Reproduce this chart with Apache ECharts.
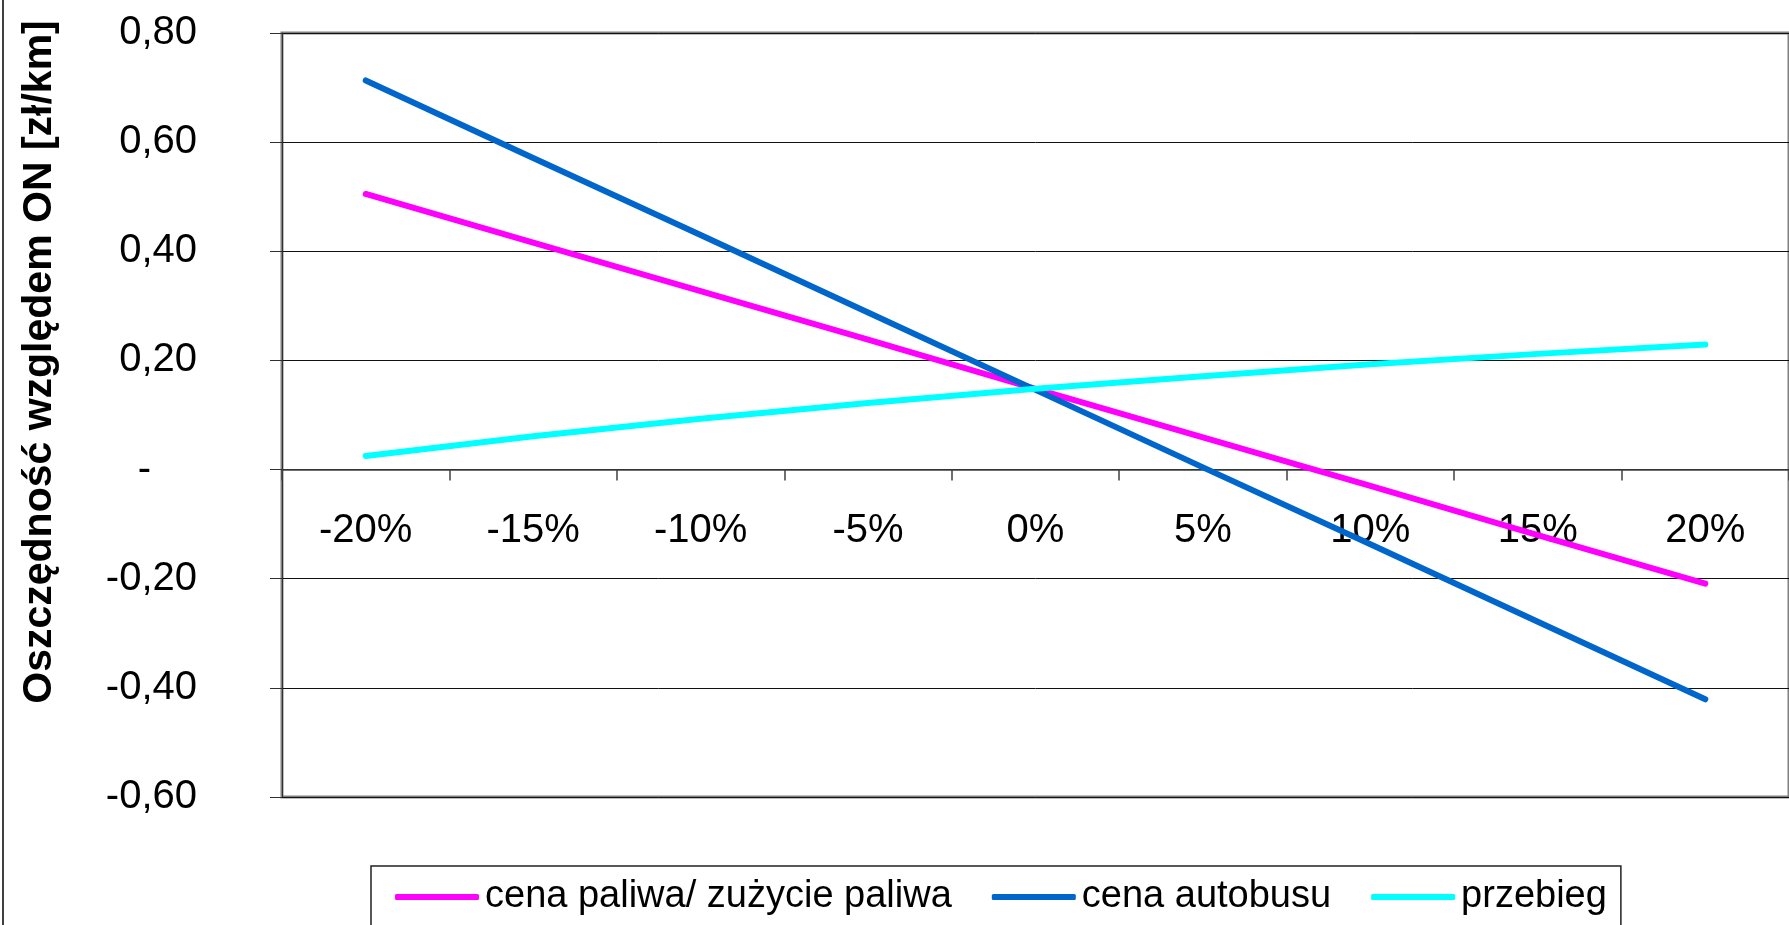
<!DOCTYPE html>
<html>
<head>
<meta charset="utf-8">
<script src="https://cdn.jsdelivr.net/npm/echarts@6/dist/echarts.min.js"></script>
<style>
html,body{margin:0;padding:0;background:#fff;}
#chart{width:1789px;height:925px;}
</style>
</head>
<body>
<div id="chart"></div>
<script>
const categories = ['-20%', '-15%', '-10%', '-5%', '0%', '5%', '10%', '15%', '20%'];
const seriesNames = ['cena paliwa/ zużycie paliwa', 'cena autobusu', 'przebieg'];
const cenaPaliwa = [0.505, 0.416, 0.327, 0.238, 0.148, 0.059, -0.030, -0.120, -0.209];
const cenaAutobusu = [0.713, 0.571, 0.430, 0.288, 0.146, 0.004, -0.137, -0.279, -0.421];
const przebieg = [0.025, 0.061, 0.093, 0.122, 0.148, 0.171, 0.193, 0.212, 0.229];
const yMin = -0.6, yMax = 0.8, yStep = 0.2;
const yAxisTitle = 'Oszczędność względem ON [zł/km]';
const colors = ['#FF00FF', '#0066CC', '#00FFFF'];

const FONT = 'Liberation Sans, Arial, sans-serif';
const W = 1789, H = 925;
const gridTop = 33, gridBottom = 128;
const plotH = H - gridTop - gridBottom;
// distance from bottom of plot to the zero line (so the category axis sits on y = 0)
const zeroOffset = -plotH * (0 - yMin) / (yMax - yMin);

const chart = echarts.init(document.getElementById('chart'), null, {renderer: 'canvas'});

function mkSeries(name, data, color) {
  return {
    name: name, type: 'line', data: data, symbol: 'none', showSymbol: false,
    lineStyle: {color: color, width: 6, cap: 'round', join: 'round'},
    itemStyle: {color: color},
    animation: false
  };
}

chart.setOption({
  backgroundColor: '#ffffff',
  animation: false,
  color: colors,
  textStyle: {fontFamily: FONT},
  graphic: [{
    type: 'rect', silent: true,
    shape: {x: 3, y: -20, width: 3000, height: 3000},
    style: {fill: 'none', stroke: '#404040', lineWidth: 2}
  }],
  grid: {
    left: 282, top: gridTop, right: -9, bottom: gridBottom,
    show: true, borderColor: '#808080', borderWidth: 3, backgroundColor: 'transparent'
  },
  legend: {
    left: 371, top: 866,
    padding: [12, 14, 60, 24],
    borderColor: '#222', borderWidth: 1.5,
    icon: 'roundRect',
    itemWidth: 84, itemHeight: 6, itemGap: 40,
    textStyle: {fontSize: 38, color: '#000', fontFamily: FONT, padding: [0, 0, 0, 1]},
    data: seriesNames
  },
  xAxis: {
    type: 'category', data: categories, boundaryGap: true,
    offset: zeroOffset,
    axisLine: {onZero: false, lineStyle: {color: '#404040', width: 1.5}},
    axisTick: {show: true, length: 11, inside: false, interval: 0, lineStyle: {color: '#404040', width: 1.5}},
    axisLabel: {fontSize: 40, color: '#000', margin: 41, interval: 0, fontFamily: FONT},
    splitLine: {show: false}
  },
  yAxis: {
    type: 'value', min: yMin, max: yMax, interval: yStep,
    name: yAxisTitle, nameLocation: 'middle', nameGap: 222, nameRotate: 90,
    nameTextStyle: {fontSize: 41, fontWeight: 'bold', color: '#000', fontFamily: FONT, padding: [0, 0, 0, 106]},
    axisLine: {show: true, onZero: false, lineStyle: {color: '#303030', width: 1}},
    axisTick: {show: true, length: 12, inside: false, lineStyle: {color: '#303030', width: 1}},
    axisLabel: {
      fontSize: 40, color: '#000', margin: 85, fontFamily: FONT,
      formatter: function (v) {
        if (Math.abs(v) < 1e-9) return '{z|-}';
        return v.toFixed(2).replace('.', ',');
      },
      rich: {z: {fontSize: 40, color: '#000', fontFamily: FONT, padding: [0, 46, 0, 0]}}
    },
    splitLine: {show: true, lineStyle: {color: '#111', width: 1}}
  },
  series: [
    mkSeries(seriesNames[0], cenaPaliwa, colors[0]),
    mkSeries(seriesNames[1], cenaAutobusu, colors[1]),
    mkSeries(seriesNames[2], przebieg, colors[2])
  ]
});
</script>
</body>
</html>
